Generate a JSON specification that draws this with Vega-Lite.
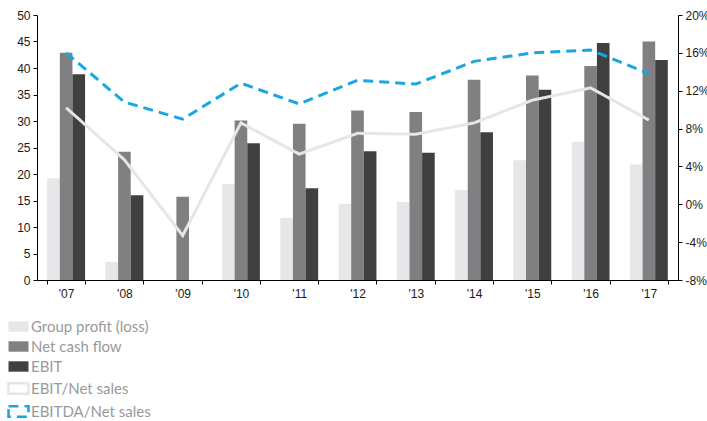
{
  "$schema": "https://vega.github.io/schema/vega-lite/v6.json",
  "width": 641,
  "height": 265,
  "autosize": {"type": "none"},
  "padding": {"left": 37, "top": 15, "right": 29, "bottom": 141},
  "background": "#ffffff",
  "config": {
    "view": {"stroke": null},
    "axis": {"labelFont": "Liberation Sans", "labelFontSize": 12, "labelColor": "#1a1a1a", "domainColor": "#000000", "tickColor": "#000000", "grid": false, "title": null, "tickSize": 4, "labelPadding": 3},
    "legend": {"labelFont": "Lato", "labelFontSize": 15, "labelColor": "#9a9a9a", "labelOffset": 3, "rowPadding": 2, "title": null, "direction": "vertical", "orient": "none", "symbolType": "M-1.25,-0.65H1.25V0.65H-1.25Z", "symbolSize": 256, "symbolStrokeWidth": 2.5}
  },
  "datasets": {
    "bars": [
      {"year": "'07", "series": "Group profit (loss)", "value": 19.2},
      {"year": "'07", "series": "Net cash flow", "value": 42.9},
      {"year": "'07", "series": "EBIT", "value": 38.8},
      {"year": "'08", "series": "Group profit (loss)", "value": 3.4},
      {"year": "'08", "series": "Net cash flow", "value": 24.2},
      {"year": "'08", "series": "EBIT", "value": 16.0},
      {"year": "'09", "series": "Group profit (loss)", "value": 0},
      {"year": "'09", "series": "Net cash flow", "value": 15.7},
      {"year": "'09", "series": "EBIT", "value": 0},
      {"year": "'10", "series": "Group profit (loss)", "value": 18.1},
      {"year": "'10", "series": "Net cash flow", "value": 30.1},
      {"year": "'10", "series": "EBIT", "value": 25.8},
      {"year": "'11", "series": "Group profit (loss)", "value": 11.7},
      {"year": "'11", "series": "Net cash flow", "value": 29.5},
      {"year": "'11", "series": "EBIT", "value": 17.3},
      {"year": "'12", "series": "Group profit (loss)", "value": 14.4},
      {"year": "'12", "series": "Net cash flow", "value": 32.0},
      {"year": "'12", "series": "EBIT", "value": 24.3},
      {"year": "'13", "series": "Group profit (loss)", "value": 14.7},
      {"year": "'13", "series": "Net cash flow", "value": 31.7},
      {"year": "'13", "series": "EBIT", "value": 24.0},
      {"year": "'14", "series": "Group profit (loss)", "value": 17.0},
      {"year": "'14", "series": "Net cash flow", "value": 37.8},
      {"year": "'14", "series": "EBIT", "value": 27.9},
      {"year": "'15", "series": "Group profit (loss)", "value": 22.6},
      {"year": "'15", "series": "Net cash flow", "value": 38.6},
      {"year": "'15", "series": "EBIT", "value": 35.9},
      {"year": "'16", "series": "Group profit (loss)", "value": 26.1},
      {"year": "'16", "series": "Net cash flow", "value": 40.4},
      {"year": "'16", "series": "EBIT", "value": 44.7},
      {"year": "'17", "series": "Group profit (loss)", "value": 21.8},
      {"year": "'17", "series": "Net cash flow", "value": 45.0},
      {"year": "'17", "series": "EBIT", "value": 41.5}
    ],
    "ratios": [
      {"year": "'07", "series": "EBIT/Net sales", "pct": 10.2},
      {"year": "'08", "series": "EBIT/Net sales", "pct": 4.7},
      {"year": "'09", "series": "EBIT/Net sales", "pct": -3.3},
      {"year": "'10", "series": "EBIT/Net sales", "pct": 8.6},
      {"year": "'11", "series": "EBIT/Net sales", "pct": 5.3},
      {"year": "'12", "series": "EBIT/Net sales", "pct": 7.5},
      {"year": "'13", "series": "EBIT/Net sales", "pct": 7.4},
      {"year": "'14", "series": "EBIT/Net sales", "pct": 8.6},
      {"year": "'15", "series": "EBIT/Net sales", "pct": 11.0},
      {"year": "'16", "series": "EBIT/Net sales", "pct": 12.3},
      {"year": "'17", "series": "EBIT/Net sales", "pct": 8.9},
      {"year": "'07", "series": "EBITDA/Net sales", "pct": 16.0},
      {"year": "'08", "series": "EBITDA/Net sales", "pct": 10.8},
      {"year": "'09", "series": "EBITDA/Net sales", "pct": 9.0},
      {"year": "'10", "series": "EBITDA/Net sales", "pct": 12.8},
      {"year": "'11", "series": "EBITDA/Net sales", "pct": 10.6},
      {"year": "'12", "series": "EBITDA/Net sales", "pct": 13.1},
      {"year": "'13", "series": "EBITDA/Net sales", "pct": 12.7},
      {"year": "'14", "series": "EBITDA/Net sales", "pct": 15.1},
      {"year": "'15", "series": "EBITDA/Net sales", "pct": 16.0},
      {"year": "'16", "series": "EBITDA/Net sales", "pct": 16.3},
      {"year": "'17", "series": "EBITDA/Net sales", "pct": 13.8}
    ]
  },
  "encoding": {
    "x": {
      "field": "year", "type": "nominal", "sort": null,
      "scale": {"paddingInner": 0.35, "paddingOuter": 0.175},
      "axis": {"labelAngle": 0, "tickBand": "extent", "labelPadding": 4}
    }
  },
  "layer": [
    {
      "data": {"name": "bars"},
      "mark": {"type": "bar", "clip": true},
      "encoding": {
        "xOffset": {"field": "series", "type": "nominal", "sort": ["Group profit (loss)", "Net cash flow", "EBIT"], "scale": {"paddingInner": 0, "paddingOuter": 0}},
        "y": {"field": "value", "type": "quantitative", "scale": {"domain": [0, 50], "nice": false}, "axis": {"values": [0, 5, 10, 15, 20, 25, 30, 35, 40, 45, 50], "orient": "left"}},
        "color": {
          "field": "series", "type": "nominal",
          "scale": {"domain": ["Group profit (loss)", "Net cash flow", "EBIT"], "range": ["#e6e7e8", "#808083", "#404040"]},
          "legend": {"legendX": -28, "legendY": 302}
        }
      }
    },
    {
      "data": {"name": "ratios"},
      "mark": {"type": "line", "strokeWidth": 3},
      "encoding": {
        "y": {"field": "pct", "type": "quantitative", "scale": {"domain": [-8, 20], "nice": false}, "axis": {"orient": "right", "values": [-8, -4, 0, 4, 8, 12, 16, 20], "labelExpr": "datum.value + '%'", "labelAlign": "left"}},
        "stroke": {
          "field": "series", "type": "nominal",
          "scale": {"domain": ["EBIT/Net sales", "EBITDA/Net sales"], "range": ["#e6e6e6", "#1aa7e0"]},
          "legend": {"legendX": -28, "legendY": 364}
        },
        "strokeDash": {
          "field": "series", "type": "nominal",
          "scale": {"domain": ["EBIT/Net sales", "EBITDA/Net sales"], "range": [[1, 0], [10, 6]]},
          "legend": {"legendX": -28, "legendY": 364}
        }
      }
    }
  ],
  "resolve": {"scale": {"y": "independent"}}
}
